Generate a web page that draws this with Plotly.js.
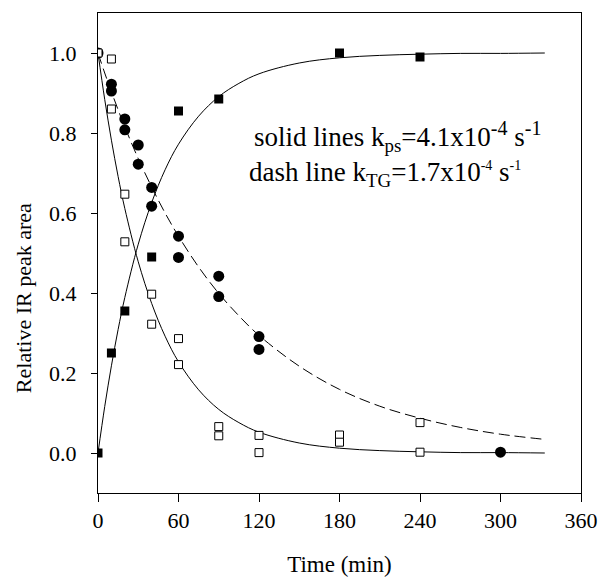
<!DOCTYPE html>
<html>
<head>
<meta charset="utf-8">
<script src="https://cdn.plot.ly/plotly-3.0.1.min.js"></script>
<style>html,body{margin:0;padding:0;background:#fff;}</style>
</head>
<body>
<div id="chart" style="width:603px;height:577px;"></div>
<script>
// Measured data (time in min, relative IR peak area)
const filledSqT = [0, 10, 20, 40, 60, 90, 180, 240];
const filledSqY = [0.0, 0.25, 0.355, 0.49, 0.855, 0.885, 1.0, 0.99];

const circleT = [0, 10, 10, 20, 20, 30, 30, 40, 40, 60, 60, 90, 90, 120, 120, 300];
const circleY = [1.0, 0.922, 0.905, 0.835, 0.808, 0.77, 0.722, 0.664, 0.617, 0.542, 0.489, 0.442, 0.391, 0.291, 0.259, 0.002];

const openSqT = [0, 10, 10, 20, 20, 40, 40, 60, 60, 90, 90, 120, 120, 180, 180, 240, 240];
const openSqY = [1.0, 0.985, 0.86, 0.647, 0.528, 0.397, 0.322, 0.286, 0.221, 0.066, 0.043, 0.044, 0.001, 0.045, 0.027, 0.076, 0.002];

// Fitted curves
const curveT    = [0, 5, 10, 15, 20, 30, 40, 50, 60, 75, 90, 105, 120, 150, 180, 210, 240, 270, 300, 333];
const solidDown = [1.0, 0.884, 0.782, 0.691, 0.611, 0.478, 0.374, 0.292, 0.228, 0.158, 0.109, 0.076, 0.052, 0.025, 0.012, 0.006, 0.003, 0.001, 0.001, 0.0];
const solidUp   = [0.0, 0.116, 0.218, 0.309, 0.389, 0.522, 0.626, 0.708, 0.772, 0.842, 0.891, 0.924, 0.948, 0.975, 0.988, 0.994, 0.997, 0.999, 0.999, 1.0];
const dashDown  = [1.0, 0.950, 0.903, 0.858, 0.815, 0.736, 0.665, 0.600, 0.542, 0.465, 0.399, 0.343, 0.294, 0.217, 0.159, 0.117, 0.087, 0.064, 0.047, 0.034];

const xTicks = [0, 60, 120, 180, 240, 300, 360];
const yTicks = [0.0, 0.2, 0.4, 0.6, 0.8, 1.0];

const FONT = "Liberation Serif";

const traces = [
  {x: curveT, y: solidDown, mode: 'lines', line: {color: '#000', width: 1, shape: 'spline'}, hoverinfo: 'skip'},
  {x: curveT, y: solidUp, mode: 'lines', line: {color: '#000', width: 1, shape: 'spline'}, hoverinfo: 'skip'},
  {x: curveT, y: dashDown, mode: 'lines', line: {color: '#000', width: 1, dash: '11px,5px', shape: 'spline'}, hoverinfo: 'skip'},
  {x: circleT, y: circleY, mode: 'markers', marker: {symbol: 'circle', size: 11, color: '#000', line: {width: 0}}},
  {x: filledSqT, y: filledSqY, mode: 'markers', marker: {symbol: 'square', size: 9, color: '#000', line: {width: 0}}},
  {x: openSqT, y: openSqY, mode: 'markers', marker: {symbol: 'square', size: 8, color: '#fff', line: {width: 1, color: '#000'}}}
];

const layout = {
  width: 603, height: 577,
  margin: {l: 98, r: 22, t: 13, b: 84},
  paper_bgcolor: '#fff', plot_bgcolor: '#fff',
  showlegend: false,
  font: {family: FONT, size: 22, color: '#000'},
  xaxis: {
    range: [0, 360], tickvals: xTicks, ticktext: xTicks.map(String),
    ticks: 'outside', ticklen: 8, tickwidth: 1, tickcolor: '#000',
    showline: true, mirror: true, linecolor: '#000', linewidth: 1,
    showgrid: false, zeroline: false,
    tickfont: {family: FONT, size: 22},
    title: {text: 'Time (min)', font: {family: FONT, size: 23}, standoff: 26}
  },
  yaxis: {
    range: [-0.1, 1.1], tickvals: yTicks, ticktext: yTicks.map(v => v.toFixed(1)),
    ticks: 'outside', ticklen: 6, tickwidth: 1, tickcolor: '#000',
    showline: true, mirror: true, linecolor: '#000', linewidth: 1,
    showgrid: false, zeroline: false,
    tickfont: {family: FONT, size: 22},
    ticklabelstandoff: 10
  },
  annotations: [
    {xref: 'paper', yref: 'paper', x: -0.155, y: (493 - 298) / 480, xanchor: 'center', yanchor: 'middle', showarrow: false,
     textangle: -90, text: 'Relative IR peak area', font: {family: FONT, size: 22}},
    {xref: 'paper', yref: 'paper', x: 0.318, y: 0.742, xanchor: 'left', yanchor: 'middle', showarrow: false,
     text: 'solid lines k<sub>ps</sub>=4.1x10<sup><span style="font-size:20px">-4</span></sup> s<sup><span style="font-size:20px">-1</span></sup>', font: {family: FONT, size: 27}},
    {xref: 'paper', yref: 'paper', x: 0.308, y: 0.664, xanchor: 'left', yanchor: 'middle', showarrow: false,
     text: 'dash line k<sub>TG</sub>=1.7x10<sup><span style="font-size:14px">-4</span></sup> s<sup><span style="font-size:14px">-1</span></sup>', font: {family: FONT, size: 27}}
  ]
};

Plotly.newPlot('chart', traces, layout, {displayModeBar: false, staticPlot: true});
</script>
</body>
</html>
